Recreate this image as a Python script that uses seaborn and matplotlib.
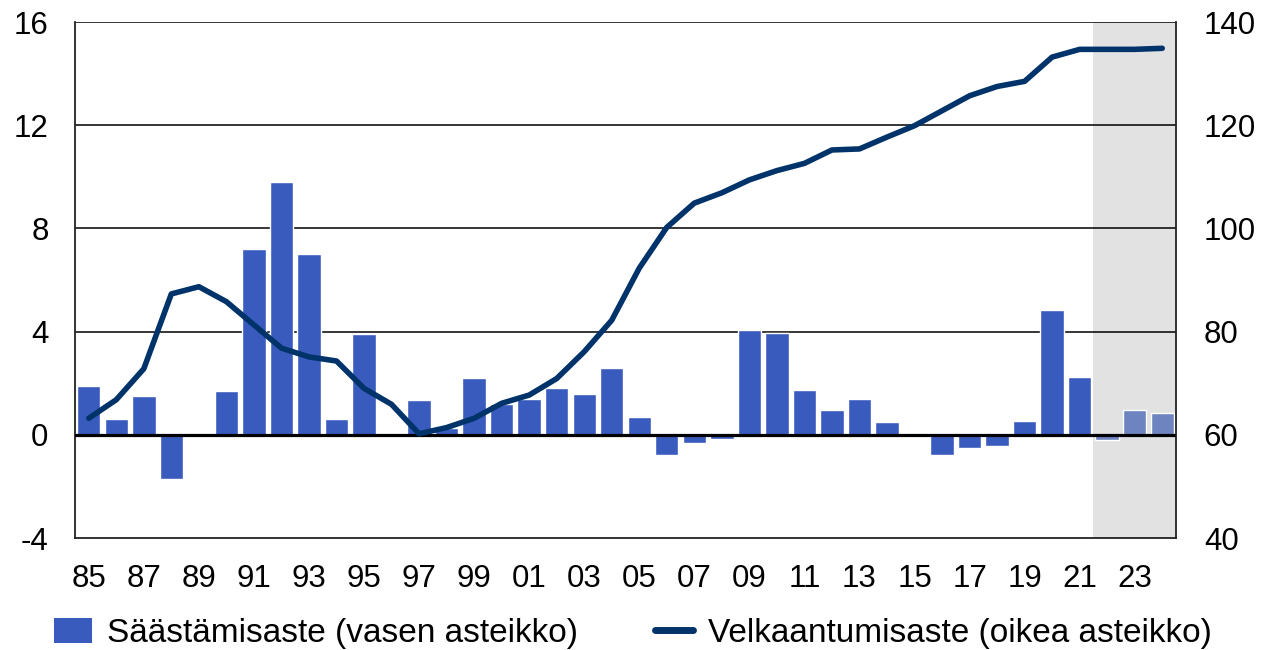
import numpy as np
import pandas as pd
import matplotlib
matplotlib.use("Agg")
import matplotlib.pyplot as plt
from matplotlib.patches import Patch
from matplotlib.lines import Line2D
import seaborn as sns

sns.set_style("white")
plt.rcParams['font.family'] = ['Liberation Sans', 'DejaVu Sans']
plt.rcParams['axes.unicode_minus'] = False
plt.rcParams['text.color'] = 'black'
plt.rcParams['xtick.color'] = 'black'
plt.rcParams['ytick.color'] = 'black'

# vuodet 1985-2024, ennustevuodet 2022-2024
years = list(range(1985, 2025))
year_labels = [f"{y % 100:02d}" for y in years]
forecast_start = 2022

# säästämisaste, % (vasen asteikko)
saving_rate = [1.9, 0.6, 1.5, -1.7, -0.05, 1.7, 7.2, 9.8, 7.0, 0.6,
               3.9, -0.1, 1.35, 0.25, 2.2, 1.2, 1.4, 1.8, 1.6, 2.6,
               0.7, -0.8, -0.3, -0.15, 4.05, 3.95, 1.75, 0.95, 1.4, 0.5,
               -0.05, -0.8, -0.5, -0.45, 0.55, 4.85, 2.25, -0.2, 0.95, 0.85]

# velkaantumisaste, % (oikea asteikko)
debt_ratio = [63.2, 66.8, 72.8, 87.3, 88.7, 85.8, 81.3, 76.8, 75.1, 74.3,
              69.0, 65.9, 60.2, 61.4, 63.2, 66.1, 67.7, 70.9, 76.1, 82.2,
              92.3, 100.2, 104.9, 106.9, 109.4, 111.2, 112.6, 115.2, 115.4, 117.7,
              119.9, 122.8, 125.7, 127.5, 128.5, 133.2, 134.7, 134.7, 134.7, 134.9]

bar_col = "#3a5bbe"
fc_col = "#6d84c0"
line_col = "#00336a"

df = pd.DataFrame({"year": year_labels, "saving": saving_rate, "debt": debt_ratio})
df["pos"] = range(len(df))
df["kind"] = ["ennuste" if y >= forecast_start else "toteutunut" for y in years]

fig = plt.figure(figsize=(12.66, 6.5), dpi=100)
ax = fig.add_axes([75 / 1266, 1 - 538 / 650, (1176 - 75) / 1266, (538 - 22) / 650])

# ennustejakson varjostus
fc_idx = years.index(forecast_start)
ax.axvspan(fc_idx - 0.5, len(years) - 0.5, color="#e2e2e2", zorder=0, lw=0)

sns.barplot(data=df, x="year", y="saving", hue="kind",
            palette={"toteutunut": bar_col, "ennuste": fc_col},
            dodge=False, width=0.85, legend=False, ax=ax, zorder=2,
            saturation=1)

ax.set_ylim(-4, 16)
ax.set_yticks([-4, 0, 4, 8, 12, 16])
ax.set_xlim(-0.5, len(years) - 0.5)
for v in [4, 8, 12, 16]:
    ax.axhline(v, color="black", lw=1.1, zorder=1)
ax.axhline(0, color="black", lw=2.3, zorder=3)

ax.set_xticks(range(0, len(years), 2))
ax.set_xticklabels(year_labels[::2])
ax.set_xlabel("")
ax.set_ylabel("")
ax.tick_params(axis="both", length=0, labelsize=22.5, pad=19)

for side in ["left", "right", "bottom"]:
    ax.spines[side].set_color("#222222")
    ax.spines[side].set_linewidth(1.3)
ax.spines["top"].set_visible(False)

ax2 = ax.twinx()
sns.lineplot(data=df, x="pos", y="debt", color=line_col, lw=4.0, ax=ax2,
             solid_capstyle="round", zorder=4)
ax2.set_ylim(40, 140)
ax2.set_yticks([40, 60, 80, 100, 120, 140])
ax2.set_ylabel("")
ax2.set_xlabel("")
ax2.tick_params(axis="y", length=0, labelsize=22.5, pad=20)
for side in ["left", "right", "bottom", "top"]:
    ax2.spines[side].set_visible(False)
ax.set_xlim(-0.5, len(years) - 0.5)

handles = [Patch(facecolor=bar_col, edgecolor="none"),
           Line2D([0], [0], color=line_col, lw=5, solid_capstyle="round")]
fig.legend(handles, ["Säästämisaste (vasen asteikko)", "Velkaantumisaste (oikea asteikko)"],
           loc="lower center", bbox_to_anchor=(0.5, -0.045), ncol=2, frameon=False,
           fontsize=24, handlelength=1.15, handleheight=0.75, columnspacing=2.3,
           handletextpad=0.45)

fig.savefig("out.png", dpi=100)
